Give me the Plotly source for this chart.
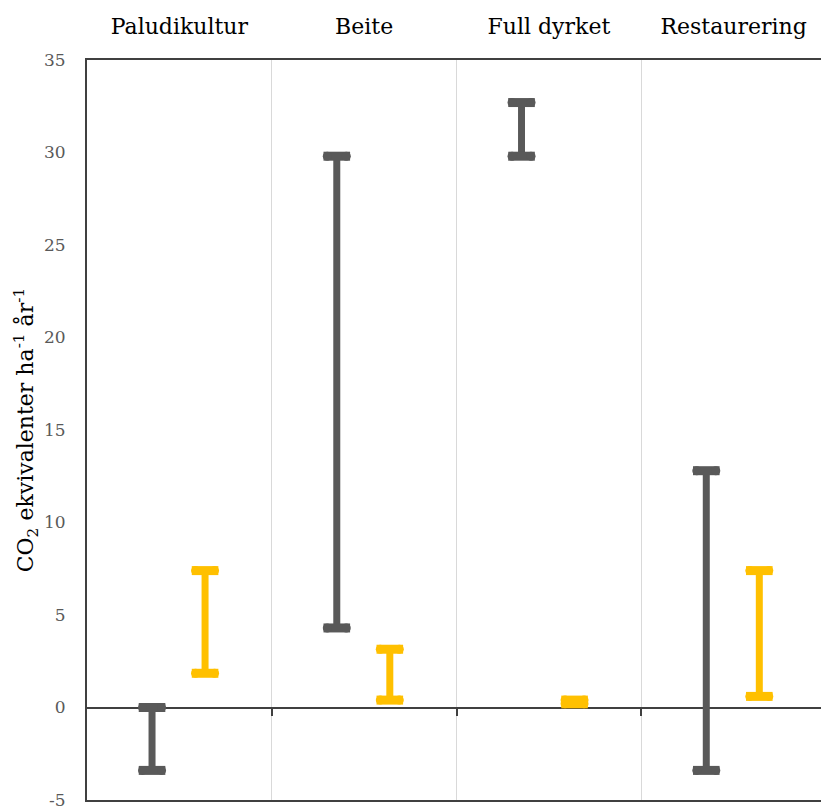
import plotly.graph_objects as go

categories = ["Paludikultur", "Beite", "Full dyrket", "Restaurering"]
gray_low = [-3.4, 4.3, 29.8, -3.4]
gray_high = [0.0, 29.8, 32.7, 12.8]
yellow_low = [1.85, 0.4, 0.2, 0.6]
yellow_high = [7.4, 3.15, 0.4, 7.4]
y_ticks = [-5, 0, 5, 10, 15, 20, 25, 30, 35]
y_tick_text = ["-5", "0", "5", "10", "15", "20", "25", "30", "35"]

GRAY = "#595959"
YELLOW = "#FFC000"
AXIS = "#404040"
FONT = "DejaVu Serif"
X_MAX = 4 * (821 - 87) / (826 - 87)

fig = go.Figure()


def add_ranges(offset, lows, highs, color):
    xs, ys = [], []
    for i, (lo, hi) in enumerate(zip(lows, highs)):
        xs += [i + offset, i + offset, None]
        ys += [lo, hi, None]
    fig.add_trace(go.Scatter(x=xs, y=ys, mode="lines",
                             line=dict(color=color, width=7),
                             showlegend=False, hoverinfo="skip"))
    cx, cy = [], []
    for i, (lo, hi) in enumerate(zip(lows, highs)):
        cx += [i + offset, i + offset]
        cy += [lo, hi]
    fig.add_trace(go.Scatter(x=cx, y=cy, mode="markers",
                             marker=dict(symbol="line-ew", size=19,
                                         line=dict(color=color, width=9)),
                             showlegend=False, hoverinfo="skip"))
    # rounded cap ends
    for side in (-1, 1):
        fig.add_trace(go.Scatter(x=[x + side * 0.0514 for x in cx], y=cy,
                                 mode="markers",
                                 marker=dict(symbol="circle", size=9, color=color,
                                             line=dict(width=0)),
                                 showlegend=False, hoverinfo="skip"))


add_ranges(0.352, gray_low, gray_high, GRAY)
add_ranges(0.639, yellow_low, yellow_high, YELLOW)

# helper trace for separator axis
fig.add_trace(go.Scatter(x=[None], y=[None], xaxis="x2", showlegend=False,
                         hoverinfo="skip"))

fig.update_layout(
    width=821, height=810,
    margin=dict(l=87, r=0, t=60, b=10),
    plot_bgcolor="white", paper_bgcolor="white",
    xaxis=dict(
        range=[0, X_MAX], side="top",
        tickvals=[i + 0.5 for i in range(len(categories))],
        ticktext=categories, ticks="", showgrid=False, zeroline=False,
        showline=True, mirror=True, linecolor=AXIS, linewidth=2,
        tickfont=dict(family=FONT, size=22, color="black"),
        ticklabelstandoff=15,
    ),
    xaxis2=dict(
        range=[0, X_MAX], overlaying="x", anchor="free", position=5 / 40,
        side="bottom", tickvals=[1, 2, 3], showticklabels=False,
        showgrid=True, gridcolor="#d9d9d9", gridwidth=1,
        ticks="outside", ticklen=7, tickwidth=2, tickcolor=AXIS,
        showline=False, zeroline=False,
    ),
    yaxis=dict(
        range=[-5, 35], tickvals=y_ticks, ticktext=y_tick_text,
        ticks="", showgrid=False, automargin=False,
        showline=True, linecolor=AXIS, linewidth=2,
        zeroline=True, zerolinecolor=AXIS, zerolinewidth=2,
        tickfont=dict(family=FONT, size=17, color="#595959"),
        ticklabelstandoff=16,
        title=dict(text="CO<sub>2</sub> ekvivalenter ha<sup>-1</sup> år<sup>-1</sup>",
                   font=dict(family=FONT, size=22, color="black"), standoff=4),
    ),
)

fig.write_html("out.html")
